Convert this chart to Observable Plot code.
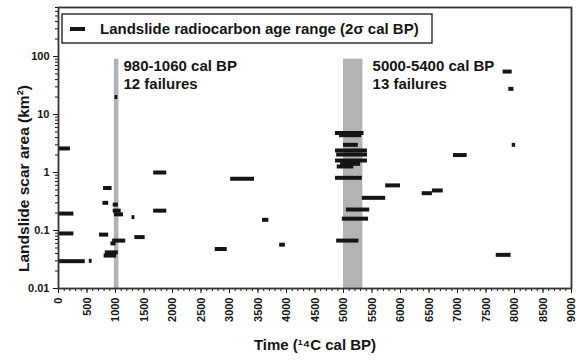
<!DOCTYPE html>
<html><head><meta charset="utf-8">
<script src="https://cdn.jsdelivr.net/npm/d3@7"></script>
<script src="https://cdn.jsdelivr.net/npm/@observablehq/plot@0.6"></script>
<style>
body{margin:0;background:#fff;}
#chart{width:577px;height:360px;}
</style></head><body><div id="chart"></div>
<script>
// Landslide radiocarbon age ranges (cal BP) and scar areas (km²)
const ageStart = [0, 0, 0, 0, 540, 790, 780, 960, 960, 980, 720, 950, 920, 820, 800, 990, 1290, 1340, 1670, 1670, 3020, 2750, 3580, 3880,
  4860, 4930, 5000, 4860, 4880, 4860, 4950, 4890, 4860, 5050, 4980, 4880, 5330, 5740, 6380, 6560, 6930, 7960, 7800, 7900, 7680];
const ageEnd = [210, 270, 270, 470, 590, 940, 880, 1050, 1100, 1140, 880, 1180, 1010, 1050, 1020, 1040, 1340, 1520, 1900, 1900, 3440, 2960, 3690, 3980,
  5360, 5320, 5260, 5420, 5420, 5420, 5300, 5180, 5330, 5460, 5440, 5270, 5740, 6000, 6560, 6750, 7170, 8020, 7960, 7990, 7940];
const scarArea = [2.6, 0.196, 0.089, 0.0296, 0.03, 0.54, 0.30, 0.28, 0.22, 0.19, 0.085, 0.067, 0.06, 0.042, 0.037, 20, 0.17, 0.077, 1.0, 0.22, 0.78, 0.048, 0.153, 0.057,
  4.8, 4.4, 3.0, 2.4, 2.04, 1.61, 1.41, 1.27, 0.81, 0.23, 0.16, 0.067, 0.366, 0.6, 0.44, 0.49, 2.0, 3.0, 55, 27.7, 0.038];

// Clusters of failures
const bandStart = [980, 5000];
const bandEnd = [1060, 5340];
const bandLabels = ["980-1060 cal BP\n12 failures", "5000-5400 cal BP\n13 failures"];
const bandLabelX = [1140, 5510];

const xTicks = d3.range(0, 9001, 500);
const xMinorTicks = d3.range(0, 9001, 100);
const yTicks = [0.01, 0.1, 1, 10, 100];
const legendLabel = "Landslide radiocarbon age range (2σ cal BP)";
const xLabel = "Time (¹⁴C cal BP)";
const yLabel = "Landslide scar area (km²)";

const segs = ageStart.map((s, i) => ({x1: s, x2: ageEnd[i], y: scarArea[i]}));
const bands = bandStart.map((s, i) => ({x1: s, x2: bandEnd[i], label: bandLabels[i], lx: bandLabelX[i]}));
const yMinor = [];
for (const d of [0.01, 0.1, 1, 10, 100]) for (let k = 2; k <= 9; k++) { const v = d * k; if (v <= 700) yMinor.push(v); }

const font = "'Liberation Sans', Arial, sans-serif";
const ink = "#151515";

const legend = (index, scales, values, dims) => {
  const g = d3.create("svg:g");
  const x0 = dims.marginLeft + 4, y0 = dims.marginTop + 7;
  g.append("rect").attr("x", x0).attr("y", y0).attr("width", 370).attr("height", 29)
    .attr("fill", "white").attr("stroke", ink).attr("stroke-width", 1.3);
  g.append("line").attr("x1", x0 + 8).attr("x2", x0 + 23).attr("y1", y0 + 15).attr("y2", y0 + 15)
    .attr("stroke", ink).attr("stroke-width", 4);
  g.append("text").attr("x", x0 + 38).attr("y", y0 + 20).attr("font-size", 15).attr("font-weight", "bold")
    .attr("text-anchor", "start").attr("fill", ink).attr("font-family", font).text(legendLabel);
  return g.node();
};

// y-axis title, sitting a little below the frame's middle as in the original
const yTitle = (index, scales, values, dims) => {
  const g = d3.create("svg:g");
  const cy = dims.marginTop + (dims.height - dims.marginTop - dims.marginBottom) / 2 + 31;
  g.append("text").attr("transform", `translate(${dims.marginLeft - 29},${cy}) rotate(-90)`)
    .attr("text-anchor", "middle").attr("font-size", 15.5).attr("font-weight", "bold")
    .attr("fill", ink).attr("font-family", font).text(yLabel);
  return g.node();
};

const chart = Plot.plot({
  width: 577, height: 360,
  marginLeft: 58, marginRight: 6, marginTop: 7, marginBottom: 72,
  x: {domain: [0, 9000]},
  y: {type: "log", domain: [0.01, 700]},
  style: {fontFamily: font, fontWeight: "bold", fontSize: "10px", color: ink, background: "white"},
  marks: [
    Plot.rect(bands, {x1: "x1", x2: "x2", y1: 0.01, y2: 90, fill: "#b3b3b3"}),
    Plot.ruleY(segs, {x1: "x1", x2: "x2", y: "y", stroke: ink, strokeWidth: 4}),
    Plot.text(bands, {x: "lx", y: 95, text: "label", textAnchor: "start", lineAnchor: "top",
      fontSize: 15, fontWeight: "bold", lineHeight: 1.2, fill: ink}),
    Plot.axisX({ticks: xMinorTicks, tickSize: 3, text: null, label: null}),
    Plot.axisX({ticks: xTicks, tickSize: 5, tickRotate: -90, tickFormat: d => String(d), fontSize: 11, label: null}),
    Plot.axisX({ticks: [], label: xLabel, labelAnchor: "center", labelArrow: "none", labelOffset: 61, fontSize: 15, dx: 6}),
    Plot.axisY({ticks: yMinor, tickSize: 3, text: null, label: null}),
    Plot.axisY({ticks: yTicks, tickSize: 5, tickFormat: d => String(d), fontSize: 11, label: null}),
    Plot.frame({stroke: "#333", strokeWidth: 1.8}),
    legend,
    yTitle
  ]
});
document.getElementById("chart").appendChild(chart);
</script></body></html>
